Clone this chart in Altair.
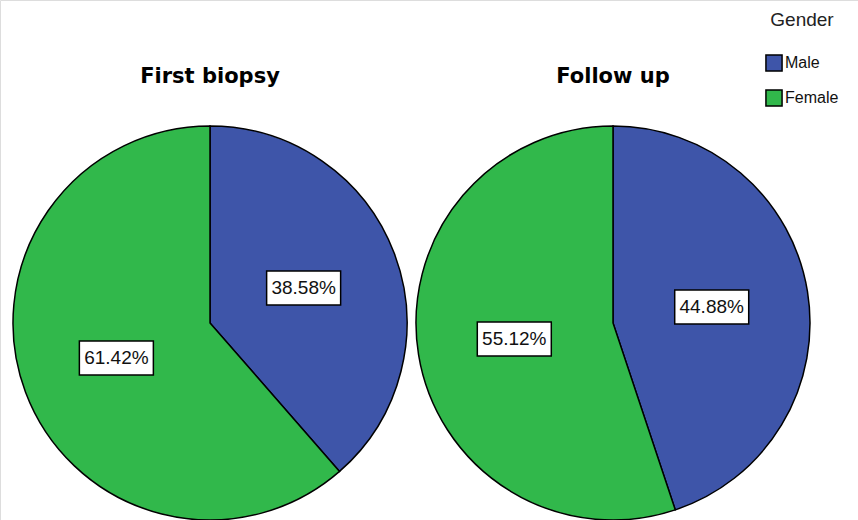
import altair as alt
import pandas as pd

# Chart data
panels = ["First biopsy", "Follow up"]
genders = ["Male", "Female"]
first_biopsy_pct = [38.58, 61.42]
follow_up_pct = [44.88, 55.12]

colors = ["#3E55A9", "#31B84B"]

rows = []
for panel, values in zip(panels, [first_biopsy_pct, follow_up_pct]):
    for i, (g, v) in enumerate(zip(genders, values)):
        rows.append({"panel": panel, "gender": g, "pct": v, "order": i})
df = pd.DataFrame(rows)

W, H = 858, 520
CY = 323
R = 197
LABEL_R = 100
centers = {"First biopsy": 210, "Follow up": 613}

color_scale = alt.Scale(domain=genders, range=colors)

base = alt.Chart(df)

layers = []
for panel in panels:
    cx = centers[panel]
    sub = base.transform_filter(alt.datum.panel == panel)

    pie = sub.mark_arc(outerRadius=R, stroke="black", strokeWidth=1.5).encode(
        x=alt.value(cx),
        y=alt.value(CY),
        theta=alt.Theta("pct:Q", stack=True, scale=alt.Scale(domain=[0, 100])),
        color=alt.Color(
            "gender:N",
            scale=color_scale,
            sort=genders,
            legend=alt.Legend(
                title="Gender",
                orient="none",
                legendX=765,
                legendY=11,
                titleFont="Liberation Sans",
                titleFontSize=19,
                titleFontWeight="normal",
                titleColor="#222",
                titlePadding=24,
                titleAnchor="middle",
                labelFont="Liberation Sans",
                labelFontSize=16,
                labelColor="#111",
                symbolType="square",
                symbolSize=260,
                symbolStrokeColor="black",
                symbolStrokeWidth=1.5,
                symbolOpacity=1,
                rowPadding=11,
                labelOffset=2,
            ),
        ),
        order=alt.Order("order:Q"),
    )

    # Label positions at the middle angle of each slice
    lab = (
        sub.transform_window(
            cum="sum(pct)", sort=[alt.SortField("order")], frame=[None, 0]
        )
        .transform_calculate(
            mid="(datum.cum - datum.pct / 2) / 100 * 2 * PI",
            lx=f"{cx} + {LABEL_R} * sin(datum.mid)",
            ly=f"{CY} - {LABEL_R} * cos(datum.mid)",
            bx1="datum.lx - 37",
            bx2="datum.lx + 37",
            by1="datum.ly - 17",
            by2="datum.ly + 17",
            txt="format(datum.pct, '.2f') + '%'",
        )
    )
    box = lab.mark_rect(fill="white", stroke="black", strokeWidth=1.5).encode(
        x=alt.X("bx1:Q", scale=None),
        x2="bx2:Q",
        y=alt.Y("by1:Q", scale=None),
        y2="by2:Q",
    )
    txt = lab.mark_text(
        font="Liberation Sans", fontSize=19, color="#111", baseline="middle"
    ).encode(
        x=alt.X("lx:Q", scale=None),
        y=alt.Y("ly:Q", scale=None),
        text="txt:N",
    )
    title = (
        alt.Chart(pd.DataFrame({"panel": [panel]}))
        .mark_text(font="DejaVu Sans", fontSize=21, fontWeight="bold", color="black")
        .encode(x=alt.value(cx), y=alt.value(77), text="panel:N")
    )
    layers += [pie, box, txt, title]

chart = (
    alt.layer(*layers)
    .properties(width=W, height=H, autosize=alt.AutoSizeParams(type="none"), padding=0)
    .configure_view(stroke=None, strokeWidth=0)
    .configure(background="white")
)

chart.save("out.html", embed_options={"renderer": "svg", "actions": False})
